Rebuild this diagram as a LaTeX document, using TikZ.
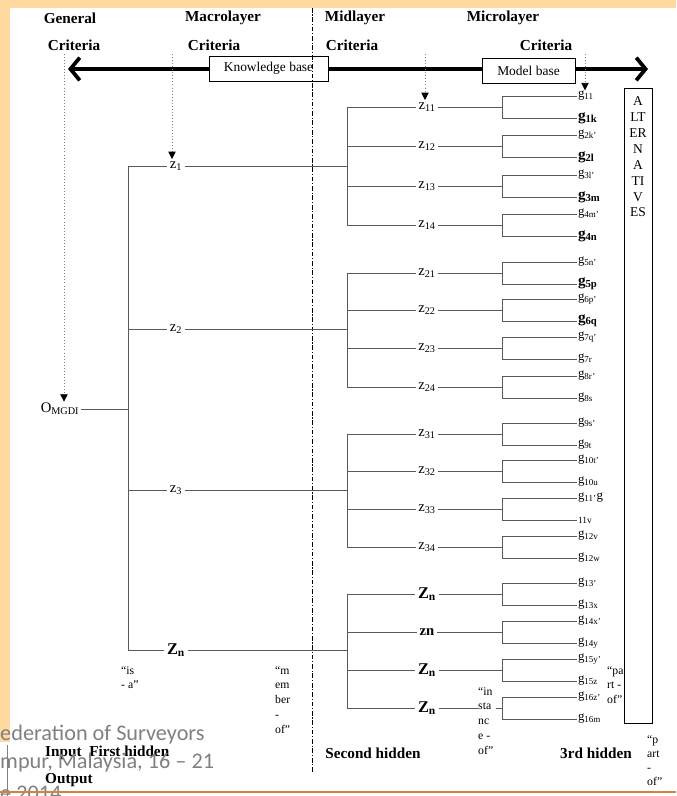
\documentclass[tikz,border=0pt]{standalone}
\usepackage{fontspec}
\setmainfont{Liberation Serif}
\newfontfamily\footfont{Carlito}
\usepackage{tikz}
\usetikzlibrary{arrows.meta, positioning}

\definecolor{slidepeach}{RGB}{255,217,160}
\definecolor{slideorange}{RGB}{206,132,70}
\definecolor{footgray}{RGB}{128,128,128}

\newcommand{\gsub}[1]{g\textsubscript{#1}}
\newcommand{\gbig}[1]{{\fontsize{13}{15}\selectfont\bfseries g\textsubscript{#1}}}
\newcommand{\zbig}[1]{{\fontsize{14}{16}\selectfont\bfseries Z\textsubscript{#1}}}

\tikzset{
    tree/.style={draw=black!65, line width=0.7pt},
    zlabel/.style={inner sep=2pt, font=\fontsize{12.5}{14}\selectfont},
    glabel/.style={anchor=west, inner sep=0.5pt, font=\fontsize{11}{12}\selectfont},
    headtext/.style={font=\fontsize{13}{15}\selectfont\bfseries},
    quotetext/.style={align=left, anchor=north west, inner sep=0pt, font=\fontsize{10}{12.7}\selectfont},
    basebox/.style={draw, fill=white, line width=0.8pt, minimum height=0.75cm, font=\fontsize{11.5}{13}\selectfont},
    guide/.style={draw=black!50, dotted, line width=0.6pt, -{Triangle[length=2.2mm, width=2.2mm, color=black]}},
}

\begin{document}
\begin{tikzpicture}[x=0.03cm, y=-0.03cm, >=Stealth]

% ── SLIDE FRAME ──────────────────────────────────────────────────
\useasboundingbox (0,0) rectangle (676,796);
\fill[white] (0,0) rectangle (676,796);
\fill[slidepeach] (0,0) rectangle (676,8);
\fill[slidepeach] (0,8) rectangle (10,742);

% ── HEADER ───────────────────────────────────────────────────────
\node[headtext] (genA) at (70,18) {General};
\node[headtext] (genB) at (74,45) {Criteria};
\node[headtext] (macA) at (223,18) {Macrolayer};
\node[headtext] (macB) at (214,45) {Criteria};
\node[headtext] (midA) at (355,18) {Midlayer};
\node[headtext] (midB) at (352,45) {Criteria};
\node[headtext] (micA) at (503,18) {Microlayer};
\node[headtext] (micB) at (546,45) {Criteria};

% Axis with the two bases
\coordinate (axisL) at (68,69);
\coordinate (axisR) at (648,69);
\draw[line width=3.2pt, {Straight Barb[length=2.8mm, width=6.8mm]}-{Straight Barb[length=2.8mm, width=6.8mm]}]
    (axisL) -- (axisR);
\node[basebox, minimum width=3.57cm] (kbase) at (268.5,68.5) {Knowledge base};
\node[basebox, minimum width=2.79cm] (mbase) at (528.5,70.5) {Model base};

% Layer divider
\draw[line width=0.6pt, dash pattern=on 4pt off 1.5pt on 1pt off 1.5pt] (312,8) -- (312,772);

% ── TREE ─────────────────────────────────────────────────────────
\node[inner sep=1pt, font=\fontsize{12.5}{14}\selectfont] (omgdi) at (60,409)
    {O\textsubscript{MGDI}};
\draw[tree] (omgdi.east) -- (128,409);
\draw[tree] (128,166) -- (128,650);

% Macrolayer
\foreach \n/\y/\t/\ya/\yb in {b1/166/z\textsubscript{1}/107/225,
        b2/329/z\textsubscript{2}/273/387,
        b3/490/z\textsubscript{3}/434/547,
        b4/650/\zbig{n}/594/708} {
    \node[zlabel] (\n) at (176,\y) {\t};
    \draw[tree] (128,\y) -- (\n.west);
    \draw[tree] (\n.east) -- (347,\y);
    \draw[tree] (347,\ya) -- (347,\yb);
}

% Midlayer
\foreach \n/\y/\t in {a1/107/z\textsubscript{11}, a2/146/z\textsubscript{12},
        a3/186/z\textsubscript{13}, a4/225/z\textsubscript{14},
        a5/273/z\textsubscript{21}, a6/310/z\textsubscript{22},
        a7/348/z\textsubscript{23}, a8/387/z\textsubscript{24},
        a9/434/z\textsubscript{31}, a10/471/z\textsubscript{32},
        a11/509/z\textsubscript{33}, a12/547/z\textsubscript{34},
        a13/594/\zbig{n}, a14/632/{\bfseries zn},
        a15/670/\zbig{n}, a16/708/\zbig{n}} {
    \node[zlabel] (\n) at (427,\y) {\t};
    \draw[tree] (347,\y) -- (\n.west);
}

% Microlayer
\foreach \y/\gt/\gb [count=\i] in {107/{\gsub{11}}/{\gbig{1k}},
        146/{\gsub{2k'}}/{\gbig{2l}}, 186/{\gsub{3l'}}/{\gbig{3m}},
        225/{\gsub{4m'}}/{\gbig{4n}}, 273/{\gsub{5n'}}/{\gbig{5p}},
        310/{\gsub{6p'}}/{\gbig{6q}}, 348/{\gsub{7q'}}/{\gsub{7r}},
        387/{\gsub{8r'}}/{\gsub{8s}}, 434/{\gsub{9s'}}/{\gsub{9t}},
        471/{\gsub{10t'}}/{\gsub{10u}}, 509/{\gsub{11'}g}/{\fontsize{8}{9}\selectfont 11v},
        547/{\gsub{12v}}/{\gsub{12w}}, 594/{\gsub{13'}}/{\gsub{13x}},
        632/{\gsub{14x'}}/{\gsub{14y}}, 670/{\gsub{15y'}}/{\gsub{15z}},
        708/{\gsub{16z'}}/{\gsub{16m}}} {
    \coordinate (k\i) at (502,\y);
    \draw[tree] (577,\y-11) node[glabel] (g\i t) {\gt}
        -- (502,\y-11) -- (502,\y+11) -- (577,\y+11) node[glabel] (g\i b) {\gb};
}

% Relation labels
\node[quotetext] (isa) at (121,666) {``is\\- a''};
\node[quotetext] (member) at (275,666) {``m\\em\\ber\\-\\of''};
\node[quotetext] (inst) at (478,687) {``in\\sta\\nc\\e -\\of''};
\node[quotetext] (partA) at (607,666) {``pa\\rt -\\of''};
\node[quotetext, font=\fontsize{10}{12}\selectfont] (partB) at (647,735) {``p\\art\\-\\of''};

\foreach \i in {1,...,15} {
    \draw[tree] (a\i.east) -- (k\i);
}
\draw[tree] (a16.east) -- (a16.east -| inst.west);
\draw[tree] (k16) -- ++(-6,0);

% Alternatives
\node[draw, line width=0.8pt, minimum width=0.84cm, minimum height=19.05cm, anchor=north]
    (altbox) at (638,88) {};
\node[align=center, anchor=north, inner sep=0pt, font=\fontsize{11.5}{13.6}\selectfont]
    (alttext) at ([yshift=-0.25cm]altbox.north) {A\\LT\\ER\\N\\A\\TI\\V\\ES};

% Guides from the criteria
\coordinate (gGen) at (64,54);
\coordinate (gMac) at (172,54);
\coordinate (gMid) at (425,54);
\coordinate (gMic) at (585,54);
\draw[guide] (gGen) -- (gGen |- omgdi.north);
\draw[guide] (gMac) -- (gMac |- b1.north);
\draw[guide] (gMid) -- (gMid |- a1.north);
\draw[guide] (gMic) -- (gMic |- g1t.north);

% ── LAYER NAMES ──────────────────────────────────────────────────
\node[headtext, anchor=west, inner sep=0pt] (lIn) at (45,753) {Input\ \ First hidden};
\node[headtext, anchor=west, inner sep=0pt] (lOut) at (45,780) {Output};
\node[headtext] (lSec) at (373,753) {Second hidden};
\node[headtext] (lThr) at (596,753) {3rd hidden};

% ── FOOTER ───────────────────────────────────────────────────────
\draw[footgray, line width=0.5pt] (7,745) -- (7,796);
\node[anchor=west, inner sep=0pt, text=footgray, font=\footfont\fontsize{19}{20}\selectfont]
    (foot1) at (0,735) {ederation of Surveyors};
\node[anchor=west, inner sep=0pt, text=footgray, font=\footfont\fontsize{19}{20}\selectfont]
    (foot2) at (0,763) {mpur, Malaysia, 16 – 21};
\node[anchor=west, inner sep=0pt, text=footgray, font=\footfont\fontsize{19}{20}\selectfont]
    (foot3) at (0,793) {e 2014};
\draw[slideorange, line width=2.4pt] (0,792) -- (676,792);

\end{tikzpicture}
\end{document}
